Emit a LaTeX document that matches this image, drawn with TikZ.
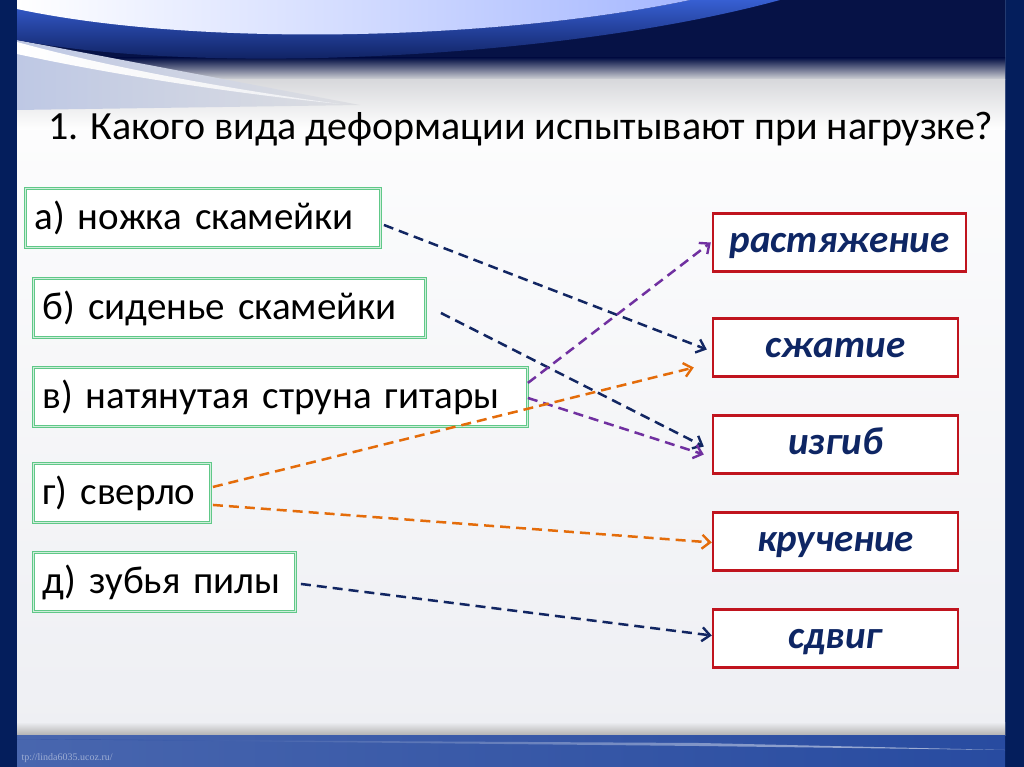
\documentclass[tikz,border=0pt]{standalone}
\usepackage{fontspec}
\setmainfont{Carlito}
\newfontfamily\urlfont{Liberation Serif}
\usetikzlibrary{arrows.meta}
\definecolor{framenavy}{RGB}{4,30,92}
\definecolor{wavenavy}{RGB}{6,18,70}
\definecolor{waveblue}{RGB}{55,95,210}
\definecolor{wavemist}{RGB}{190,200,228}
\definecolor{panelgrey}{RGB}{238,239,243}
\definecolor{bottomblue}{RGB}{40,75,160}
\definecolor{boxgreen}{RGB}{96,200,136}
\definecolor{boxred}{RGB}{192,20,30}
\definecolor{textnavy}{RGB}{14,38,100}
\definecolor{linknavy}{RGB}{18,38,98}
\definecolor{linkpurple}{RGB}{112,48,160}
\definecolor{linkorange}{RGB}{228,108,10}
\begin{document}
\begin{tikzpicture}[x=1pt,y=-1pt,
  leftbox/.style={draw=boxgreen, double=white!70!boxgreen, double distance=0.8pt, line width=0.9pt,
    fill=white, anchor=north west, minimum height=59pt, inner xsep=9pt, inner ysep=0pt,
    align=left, font=\fontsize{39}{42}\selectfont},
  rightbox/.style={draw=boxred, line width=2.4pt, fill=white, minimum width=245pt,
    minimum height=58pt, inner sep=0pt, text=textnavy, text height=19pt, text depth=0pt,
    font=\fontsize{39}{42}\selectfont\bfseries\itshape},
  link/.style={line width=2.5pt, dash pattern=on 10pt off 6pt,
    -{Straight Barb[length=8pt,width=14pt,line width=2.4pt]}}]
\useasboundingbox (0,0) rectangle (1024,767);
% background
\fill[framenavy] (0,0) rectangle (1024,767);
\shade[top color=white, bottom color=panelgrey] (17,0) rectangle (1005,735);
\fill[wavenavy] (17,0) rectangle (1005,58);
\shade[top color=wavenavy, bottom color=panelgrey!80!gray] (17,58) rectangle (1005,80);
\shade[top color=panelgrey!80!gray, bottom color=white] (17,80) rectangle (1005,130);
\shade[left color=wavemist, right color=panelgrey!85!gray] (17,40) -- (360,105) -- (17,110) -- cycle;
\shade[top color=waveblue, bottom color=wavenavy] (17,5) .. controls (200,48) and (500,40) .. (690,0) -- (780,0) .. controls (560,60) and (200,75) .. (17,40) -- cycle;
\shade[left color=white, right color=cyan!20!blue!35] (17,0) -- (690,0) .. controls (500,40) and (200,48) .. (17,9) -- cycle;
\shade[left color=white, right color=panelgrey] (17,42) .. controls (100,65) and (220,88) .. (340,104) .. controls (220,92) and (100,72) .. (17,54) -- cycle;
\shade[top color=panelgrey, bottom color=gray!60] (17,722) rectangle (1005,735);
\shade[left color=bottomblue!85!white, right color=bottomblue] (17,735) rectangle (1005,767);
\shade[left color=bottomblue, right color=white!60!bottomblue] (17,739) -- (700,743) -- (1005,750) -- (700,746) -- cycle;
\path (18,760) node[anchor=base west, font=\urlfont\fontsize{10}{12}\selectfont, text=white!55!bottomblue] (url) {tp://linda6035.ucoz.ru/};
% question
\path (45,140) node[anchor=base west, font=\fontsize{40}{44}\selectfont] (title) {1. Какого вида деформации испытывают при нагрузке?};
% left column
\node[leftbox, text width=337pt] (a) at (25,188) {а) ножка скамейки};
\node[leftbox, text width=374pt] (b) at (33,278) {б) сиденье скамейки};
\node[leftbox, text width=476pt] (v) at (33,367) {в) натянутая струна гитары};
\node[leftbox, text width=159pt] (g) at (33,463) {г) сверло};
\node[leftbox, text width=244pt] (d) at (33,552) {д) зубья пилы};
% right column
\node[rightbox, minimum width=253pt] (rast) at (839.5,242.5) {растяжение};
\foreach \n/\y/\t in {szh/347.5/сжатие, izg/444.5/изгиб, kru/541.5/кручение, sdv/638.5/сдвиг}
  \node[rightbox] (\n) at (835.5,\y) {\t};
% answers
\draw[link, linknavy] ([xshift=3pt,yshift=-7pt]a.east) -- ([xshift=-5pt,yshift=-2pt]szh.west);
\draw[link, linknavy] ([xshift=15pt,yshift=-5pt]b.east) -- ([xshift=-8pt,yshift=-2pt]izg.west);
\draw[link, linkpurple] ([yshift=14pt]v.east) -- ([xshift=-1pt]rast.west);
\draw[link, linkpurple] ([yshift=-1pt]v.east) -- ([xshift=-8pt,yshift=-10pt]izg.west);
\draw[link, linkorange] ([xshift=2pt,yshift=6pt]g.east) -- ([xshift=-18pt,yshift=-20pt]szh.west);
\draw[link, linkorange] ([xshift=2pt,yshift=-12pt]g.east) -- ([xshift=0pt,yshift=-1pt]kru.west);
\draw[link, linknavy] ([xshift=5pt,yshift=-2pt]d.east) -- ([xshift=0pt,yshift=3pt]sdv.west);
\end{tikzpicture}
\end{document}
